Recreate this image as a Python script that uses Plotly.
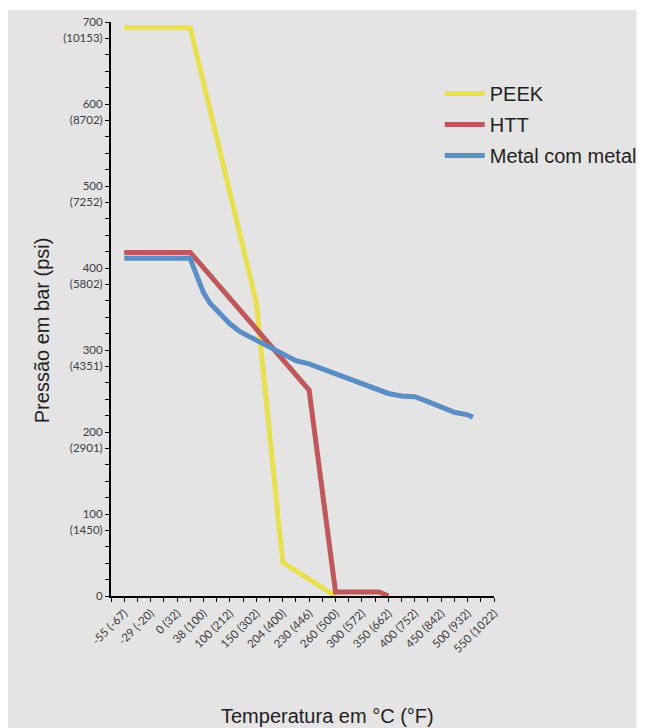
import plotly.graph_objects as go

# Category labels along x (one per label index 0..14)
temp_labels = ["-55 (-67)", "-29 (-20)", "0 (32)", "38 (100)", "100 (212)", "150 (302)",
               "204 (400)", "230 (446)", "260 (500)", "300 (572)", "350 (662)",
               "400 (752)", "450 (842)", "500 (932)", "550 (1022)"]

# Y axis: bar values and matching psi labels
bar_ticks = [0, 100, 200, 300, 400, 500, 600, 700]
psi_labels = ["", "(1450)", "(2901)", "(4351)", "(5802)", "(7252)", "(8702)", "(10153)"]

# Series (x in category-index units, y in bar)
peek_x = [0, 2.5, 5, 6, 8]
peek_y = [693, 693, 358, 41, 0]

htt_x = [0, 2.5, 7, 8, 9.65, 10]
htt_y = [419, 419, 251, 5, 5, 0]

metal_x = [0, 2.5, 2.6, 2.75, 3, 3.25, 3.5, 3.75, 4, 4.4, 4.75, 5.1, 5.5, 6, 6.5, 7, 7.5,
           8, 8.5, 9, 9.5, 10, 10.5, 11, 11.5, 12, 12.5, 13, 13.2]
metal_y = [412, 412, 403, 389, 370, 357, 349, 340, 332, 322, 316, 310, 304, 295, 287,
           283, 277, 270, 264, 258, 252, 247, 244, 243, 237, 230, 224, 221, 218]

series = [("PEEK", peek_x, peek_y, "#e8e04e"),
          ("HTT", htt_x, htt_y, "#c0575a"),
          ("Metal com metal", metal_x, metal_y, "#5b8dc6")]

fig = go.Figure()
for name, xs, ys, col in series:
    fig.add_trace(go.Scatter(x=xs, y=ys, mode="lines", name=name, legendgroup=name,
                             line=dict(color=col, width=5)))

# y tick values every 20, labels: bar at hundreds, psi one minor step below
yvals, ytext = [], []
for v in range(0, 701, 20):
    yvals.append(v)
    if v in bar_ticks:
        ytext.append(str(v))
    elif (v + 20) in bar_ticks:
        ytext.append(psi_labels[bar_ticks.index(v + 20)])
    else:
        ytext.append("")

OFF = 8  # page body margin
L, R, T, B = 111 - OFF, 646 - 494.3, 22 - OFF, 728 - 595.7
W, H = 646 - 111 - R, 728 - 22 - B
px = lambda x: (x - 111) / W
py = lambda y: (595.7 - y) / H

tickfont = dict(family="Lato, Open Sans, sans-serif", size=11.5, color="#404040")
titlefont = dict(family="Liberation Sans, Arial, sans-serif", size=20, color="#222222")
fig.update_layout(
    width=646 - OFF, height=728 - OFF,
    margin=dict(l=L, r=R, t=T, b=B, autoexpand=False),
    paper_bgcolor="white", plot_bgcolor="#e4e4e4",
    showlegend=True,
    legend=dict(x=px(440), y=py(74), xanchor="left", yanchor="top",
                bgcolor="rgba(0,0,0,0)", itemwidth=40, tracegroupgap=2,
                font=titlefont),
    xaxis=dict(range=[-0.5, 14], tickmode="array", tickvals=list(range(len(temp_labels))),
               ticktext=temp_labels, tickangle=-45, ticks="outside", ticklen=4, tickwidth=1,
               tickcolor="black", showline=True, linecolor="black", linewidth=2,
               showgrid=False, zeroline=False, tickfont=tickfont,
               minor=dict(tickmode="linear", tick0=-0.5, dtick=0.5, ticks="outside", ticklen=4,
                          tickwidth=1, tickcolor="black", showgrid=False)),
    yaxis=dict(range=[0, 700], tickmode="array", tickvals=yvals, ticktext=ytext,
               ticks="outside", ticklen=4, tickwidth=1, tickcolor="black",
               showline=True, linecolor="black", linewidth=2, showgrid=False,
               zeroline=False, tickfont=tickfont),
    shapes=[dict(type="rect", xref="paper", yref="paper", x0=px(7), x1=px(637),
                 y0=py(740), y1=py(10), fillcolor="#e4e4e4", line=dict(width=0), layer="below")],
    annotations=[
        dict(text="Temperatura em °C (°F)", xref="paper", yref="paper", x=px(328), y=py(716),
             xanchor="center", yanchor="middle", showarrow=False, font=titlefont),
        dict(text="Pressão em bar (psi)", xref="paper", yref="paper", x=px(42), y=py(330),
             xanchor="center", yanchor="middle", textangle=-90, showarrow=False,
             font=titlefont),
    ],
)

fig.write_html("out.html")
